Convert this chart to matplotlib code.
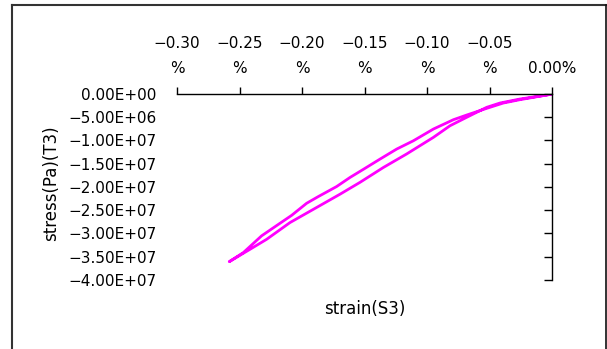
import matplotlib
matplotlib.use("Agg")
import matplotlib.pyplot as plt
from matplotlib.lines import Line2D

# strain (%) and stress (Pa)
# upper branch (from the tip back to zero)
strain_up = [-0.2582, -0.2469, -0.2323, -0.2176, -0.2083, -0.1963, -0.1869, -0.1723,
             -0.1616, -0.1509, -0.1376, -0.1243, -0.1109, -0.0949, -0.0789, -0.0683,
             -0.0523, -0.0389, -0.0256, -0.0043, 0.0]
stress_up = [-3.606e7, -3.41e7, -3.05e7, -2.78e7, -2.61e7, -2.35e7, -2.205e7, -1.99e7,
             -1.795e7, -1.62e7, -1.40e7, -1.185e7, -1.006e7, -7.54e6, -5.53e6, -4.53e6,
             -3.09e6, -1.94e6, -1.22e6, -2.2e5, 0.0]
# lower branch (from zero down to the tip)
strain_low = [0.0, -0.0043, -0.0256, -0.0416, -0.0523, -0.0683, -0.0816, -0.0949,
              -0.1163, -0.1349, -0.1536, -0.1696, -0.1909, -0.2096, -0.2283, -0.2416, -0.2582]
stress_low = [0.0, -2.2e5, -1.08e6, -1.94e6, -2.87e6, -5.02e6, -6.83e6, -9.33e6,
              -1.29e7, -1.58e7, -1.90e7, -2.155e7, -2.48e7, -2.765e7, -3.125e7, -3.34e7, -3.606e7]

x_ticks = [-0.30, -0.25, -0.20, -0.15, -0.10, -0.05, 0.0]
x_labels = ["\u22120.30\n%", "\u22120.25\n%", "\u22120.20\n%", "\u22120.15\n%",
            "\u22120.10\n%", "\u22120.05\n%", "0.00%"]
y_ticks = [0, -5e6, -1e7, -1.5e7, -2e7, -2.5e7, -3e7, -3.5e7, -4e7]
y_labels = ["0.00E+00", "\u22125.00E+06", "\u22121.00E+07", "\u22121.50E+07", "\u22122.00E+07",
            "\u22122.50E+07", "\u22123.00E+07", "\u22123.50E+07", "\u22124.00E+07"]

plt.rcParams["font.family"] = ["DejaVu Sans"]

W, H = 607, 349
fig = plt.figure(figsize=(W / 100, H / 100), dpi=100)
ax = fig.add_axes([177 / W, (H - 280) / H, (552 - 177) / W, (280 - 94) / H])

ax.plot(strain_low + strain_up, stress_low + stress_up, color="#ff00ff", linewidth=2.0)

ax.set_xlim(-0.30, 0.0)
ax.set_ylim(-4e7, 0)

ax.spines["left"].set_visible(False)
ax.spines["bottom"].set_visible(False)
ax.spines["top"].set_linewidth(1.0)
ax.spines["right"].set_linewidth(1.0)

ax.set_xticks(x_ticks)
ax.set_xticklabels(x_labels, fontsize=11, linespacing=1.8, ha="center")
ax.xaxis.set_ticks_position("top")
ax.tick_params(axis="x", direction="out", length=5, width=1, pad=8,
               top=True, bottom=False, labeltop=True, labelbottom=False)

ax.set_yticks(y_ticks)
ax.set_yticklabels(y_labels, fontsize=11)
ax.tick_params(axis="y", left=False, right=True, direction="in", length=6, width=1,
               labelleft=True, labelright=False, pad=15)

ax.set_xlabel("strain(S3)", fontsize=12)
ax.xaxis.set_label_coords((365 - 177) / (552 - 177), -(300 - 280) / (280 - 94))
ax.set_ylabel("stress(Pa)(T3)", fontsize=12)
ax.yaxis.set_label_coords(-(177 - 60) / (552 - 177), 0.52)

# outer chart border (left, top, right)
fig.add_artist(Line2D([12 / W, 12 / W], [0, 1 - 5 / H], color="#333333", linewidth=1.5))
fig.add_artist(Line2D([12 / W, 1 - 1 / W], [1 - 5 / H, 1 - 5 / H], color="#333333", linewidth=1.5))
fig.add_artist(Line2D([1 - 1.5 / W, 1 - 1.5 / W], [0, 1 - 5 / H], color="#111111", linewidth=1.2))

fig.savefig("out.png", dpi=100)
